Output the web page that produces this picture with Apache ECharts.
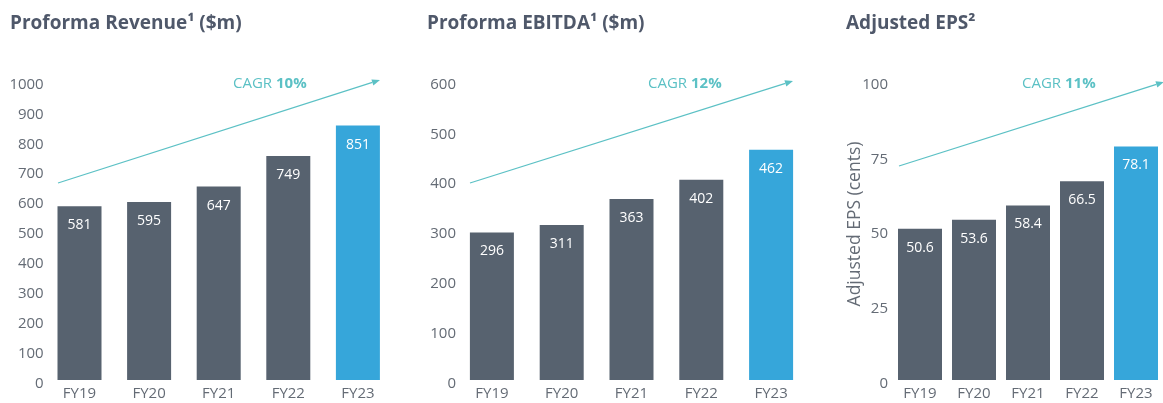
<!DOCTYPE html>
<html>
<head>
<meta charset="utf-8">
<script src="https://cdn.jsdelivr.net/npm/echarts@6/dist/echarts.min.js"></script>
<style>
html,body{margin:0;padding:0;background:#fff;}
#c{width:1163px;height:403px;}
</style>
</head>
<body>
<div id="c"></div>
<script>
const categories = ['FY19', 'FY20', 'FY21', 'FY22', 'FY23'];
const revenue = [581, 595, 647, 749, 851];
const ebitda = [296, 311, 363, 402, 462];
const eps = [50.6, 53.6, 58.4, 66.5, 78.1];
const titles = ['Proforma Revenue¹ ($m)', 'Proforma EBITDA¹ ($m)', 'Adjusted EPS²'];
const cagr = ['10%', '12%', '11%'];
const yMax = [1000, 600, 100];
const yInterval = [100, 100, 25];
const epsAxisName = 'Adjusted EPS (cents)';

const FONT = 'Open Sans';
const DARK = '#57626f';
const BLUE = '#36a6da';
const TEAL = '#5cc1c5';
const AXIS = '#646b75';
const TITLE = '#4f586a';

const grids = [
  {left: 44.7, width: 348, top: 81, height: 299},
  {left: 457, width: 349, top: 81, height: 299},
  {left: 893, width: 280, top: 81, height: 299}
];
const labelMargins = [1, 1, 5];
const seriesData = [revenue, ebitda, eps];

const chart = echarts.init(document.getElementById('c'));

function arrow(x1, y1, x2, y2) {
  const dx = x2 - x1, dy = y2 - y1;
  const len = Math.sqrt(dx * dx + dy * dy);
  const ux = dx / len, uy = dy / len;
  const hl = 8, hw = 3.2;
  const bx = x2 - ux * hl, by = y2 - uy * hl;
  return [
    {type: 'line', silent: true, shape: {x1: x1, y1: y1, x2: bx, y2: by},
      style: {stroke: TEAL, lineWidth: 1.3}},
    {type: 'polygon', silent: true,
      shape: {points: [[x2, y2], [bx - uy * hw, by + ux * hw], [bx + uy * hw, by - ux * hw]]},
      style: {fill: TEAL}}
  ];
}

const cagrPos = [[233, 84], [648, 84], [1022, 84]];
const arrows = [[58, 183, 380, 80], [470, 183, 793, 81], [899, 166, 1164, 82]];

let graphics = [];
arrows.forEach(a => { graphics = graphics.concat(arrow(a[0], a[1], a[2], a[3])); });
cagrPos.forEach((p, i) => {
  graphics.push({
    type: 'text', silent: true, left: p[0], top: p[1] - 8,
    style: {
      text: '{n|CAGR }{b|' + cagr[i] + '}',
      rich: {
        n: {fontFamily: FONT, fontSize: 15, fill: TEAL, color: TEAL},
        b: {fontFamily: FONT, fontSize: 15, fontWeight: 'bold', fill: TEAL, color: TEAL}
      }
    }
  });
});
graphics.push({
  type: 'text', silent: true, x: 855, y: 224, rotation: Math.PI / 2,
  style: {text: epsAxisName, fill: AXIS, fontFamily: FONT, fontSize: 17.5,
    align: 'center', verticalAlign: 'middle'}
});

const titleLeft = [10, 427, 846];

const option = {
  animation: false,
  textStyle: {fontFamily: FONT},
  title: titles.map((t, i) => ({
    text: t, left: titleLeft[i], top: 14, padding: 0,
    textStyle: {fontFamily: FONT, fontSize: 19, fontWeight: 'bold', color: TITLE}
  })),
  grid: grids,
  xAxis: grids.map((g, i) => ({
    type: 'category', gridIndex: i, data: categories,
    axisLine: {show: false}, axisTick: {show: false},
    axisLabel: {color: AXIS, fontSize: 15, fontFamily: FONT, margin: 6}
  })),
  yAxis: grids.map((g, i) => ({
    type: 'value', gridIndex: i, min: 0, max: yMax[i], interval: yInterval[i],
    axisLine: {show: false}, axisTick: {show: false}, splitLine: {show: false},
    axisLabel: {color: AXIS, fontFamily: FONT, margin: labelMargins[i],
      formatter: v => '{a|' + v + '}',
      rich: {a: {color: AXIS, fontSize: 15, fontFamily: FONT, padding: [7, 0, 0, 0]}}}
  })),
  series: seriesData.map((d, i) => ({
    type: 'bar', xAxisIndex: i, yAxisIndex: i, barWidth: 44,
    data: d.map((v, j) => ({value: v, itemStyle: {color: j === d.length - 1 ? BLUE : DARK}})),
    label: {show: true, position: 'insideTop', distance: 12, color: '#ffffff',
      fontSize: 14, fontFamily: FONT}
  })),
  graphic: graphics
};
chart.setOption(option);
</script>
</body>
</html>
